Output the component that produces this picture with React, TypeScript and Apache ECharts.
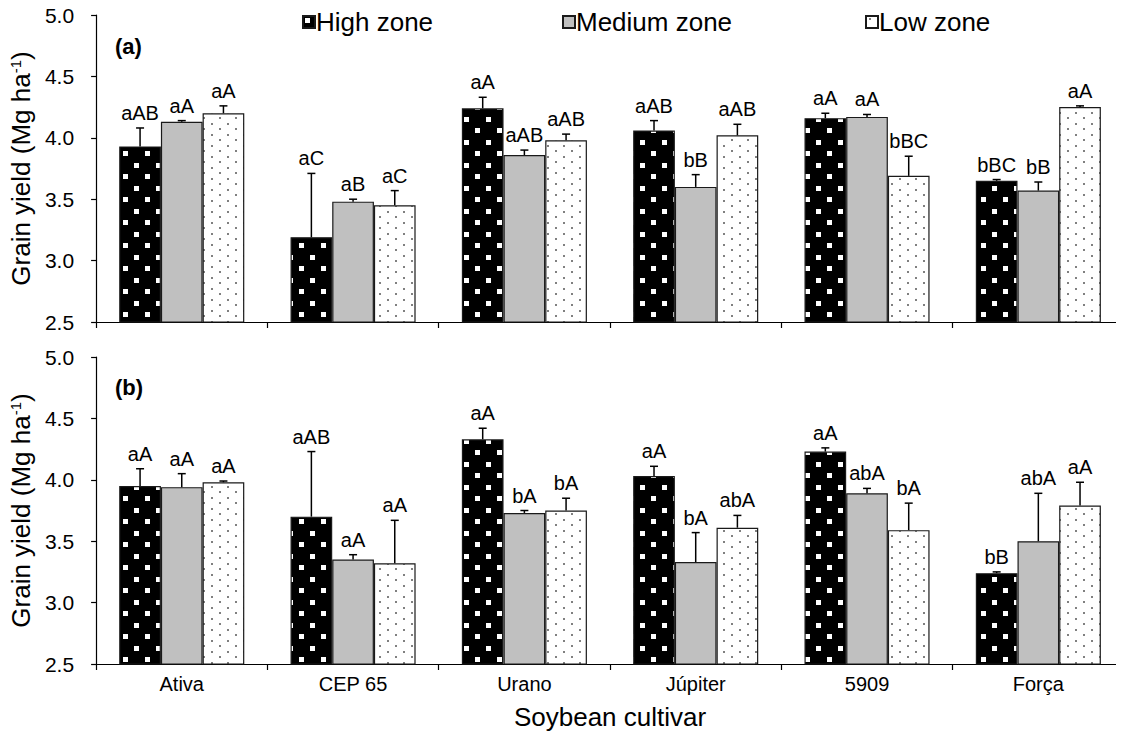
import React, { useEffect, useRef } from "react";
import * as echarts from "echarts";

const categories = ["Ativa", "CEP 65", "Urano", "Júpiter", "5909", "Força"];
const zoneNames = ["High zone", "Medium zone", "Low zone"];

// Panel (a)
const aHigh = [3.93, 3.19, 4.24, 4.06, 4.16, 3.65];
const aHighErr = [0.15, 0.52, 0.09, 0.08, 0.04, 0.01];
const aMed = [4.13, 3.48, 3.86, 3.6, 4.17, 3.57];
const aMedErr = [0.01, 0.02, 0.04, 0.1, 0.02, 0.07];
const aLow = [4.2, 3.45, 3.98, 4.02, 3.69, 4.25];
const aLowErr = [0.06, 0.12, 0.05, 0.09, 0.16, 0.01];
const aHighLbl = ["aAB", "aC", "aA", "aAB", "aA", "bBC"];
const aMedLbl = ["aA", "aB", "aAB", "bB", "aA", "bB"];
const aLowLbl = ["aA", "aC", "aAB", "aAB", "bBC", "aA"];

// Panel (b)
const bHigh = [3.95, 3.7, 4.33, 4.03, 4.23, 3.24];
const bHighErr = [0.14, 0.53, 0.09, 0.08, 0.03, 0.01];
const bMed = [3.94, 3.35, 3.73, 3.33, 3.89, 3.5];
const bMedErr = [0.11, 0.04, 0.02, 0.24, 0.04, 0.39];
const bLow = [3.98, 3.32, 3.75, 3.61, 3.59, 3.79];
const bLowErr = [0.01, 0.35, 0.1, 0.1, 0.22, 0.19];
const bHighLbl = ["aA", "aAB", "aA", "aA", "aA", "bB"];
const bMedLbl = ["aA", "aA", "bA", "bA", "abA", "abA"];
const bLowLbl = ["aA", "aA", "bA", "abA", "bA", "aA"];

const yTicks = { min: 2.5, max: 5.0, interval: 0.5 };

const FONT = '"Liberation Sans", Arial, Helvetica, sans-serif';
const CAT_GAP = 0.27;

function makeHighPattern() {
  const c = document.createElement("canvas");
  c.width = 22;
  c.height = 23;
  const g = c.getContext("2d")!;
  g.fillStyle = "#000";
  g.fillRect(0, 0, 22, 23);
  g.fillStyle = "#fff";
  g.fillRect(2, 2, 5, 5);
  g.fillRect(13, 13, 5, 5);
  return c;
}
function makeLowPattern() {
  const c = document.createElement("canvas");
  c.width = 16;
  c.height = 11;
  const g = c.getContext("2d")!;
  g.fillStyle = "#fff";
  g.fillRect(0, 0, 16, 11);
  g.fillStyle = "#808080";
  g.fillRect(3, 2, 2, 2);
  g.fillRect(11, 7, 2, 2);
  return c;
}

export default function App() {
  const ref = useRef<HTMLDivElement>(null);
  useEffect(() => {
    if (!ref.current) return;
    const chart = echarts.init(ref.current, null, { renderer: "svg" });
    const hp = makeHighPattern();
    const lp = makeLowPattern();
    const fills: any[] = [
      { image: hp, repeat: "repeat", imageWidth: 22, imageHeight: 23 },
      "#c0c0c0",
      { image: lp, repeat: "repeat", imageWidth: 16, imageHeight: 11 },
    ];

    const panels = [
      { vals: [aHigh, aMed, aLow], errs: [aHighErr, aMedErr, aLowErr], lbls: [aHighLbl, aMedLbl, aLowLbl] },
      { vals: [bHigh, bMed, bLow], errs: [bHighErr, bMedErr, bLowErr], lbls: [bHighLbl, bMedLbl, bLowLbl] },
    ];

    const series: any[] = [];
    panels.forEach((p, gi) => {
      for (let k = 0; k < 3; k++) {
        series.push({
          type: "bar",
          name: zoneNames[k],
          xAxisIndex: gi,
          yAxisIndex: gi,
          data: p.vals[k],
          barGap: "0%",
          barCategoryGap: CAT_GAP * 100 + "%",
          itemStyle: { color: fills[k], borderColor: "#1a1a1a", borderWidth: 1.2 },
          emphasis: { disabled: true },
        });
      }
    });
    panels.forEach((p, gi) => {
      for (let k = 0; k < 3; k++) {
        const vals = p.vals[k];
        const errs = p.errs[k];
        const lbls = p.lbls[k];
        series.push({
          type: "custom",
          xAxisIndex: gi,
          yAxisIndex: gi,
          silent: true,
          z: 5,
          data: vals.map((v, i) => [i, v, errs[i]]),
          renderItem: (params: any, api: any) => {
            const ci = api.value(0);
            const v = api.value(1);
            const e = api.value(2);
            const base = api.coord([ci, v]);
            const top = api.coord([ci, v + e]);
            const band = api.size([1, 0])[0];
            const bw = (band * (1 - CAT_GAP)) / 3;
            const x = base[0] + (k - 1) * bw;
            const capHalf = 4;
            return {
              type: "group",
              children: [
                { type: "line", shape: { x1: x, y1: base[1], x2: x, y2: top[1] }, style: { stroke: "#000", lineWidth: 1.5 } },
                { type: "line", shape: { x1: x - capHalf, y1: top[1], x2: x + capHalf, y2: top[1] }, style: { stroke: "#000", lineWidth: 1.5 } },
                {
                  type: "text",
                  x: x,
                  y: top[1] - 5,
                  style: {
                    text: lbls[params.dataIndex],
                    align: "center",
                    verticalAlign: "bottom",
                    fontSize: 20,
                    fontFamily: FONT,
                    fill: "#000",
                  },
                },
              ],
            };
          },
        });
      }
    });

    const yAxisCommon = (gi: number) => ({
      type: "value",
      gridIndex: gi,
      min: yTicks.min,
      max: yTicks.max,
      interval: yTicks.interval,
      name: "{a|Grain yield (Mg ha}{s|-1}{a|)}",
      nameLocation: "middle",
      nameGap: 58,
      nameTextStyle: {
        rich: {
          a: { fontSize: 26, fontFamily: FONT, color: "#000" },
          s: { fontSize: 15, fontFamily: FONT, color: "#000", verticalAlign: "top", padding: [0, 0, 10, 0] },
        },
      },
      axisLine: { show: true, lineStyle: { color: "#000", width: 1.2 } },
      axisTick: { show: true, inside: false, length: 5, lineStyle: { color: "#000", width: 1.2 } },
      axisLabel: {
        formatter: (v: number) => v.toFixed(1),
        fontSize: 21,
        fontFamily: FONT,
        color: "#000",
        margin: 22,
      },
      splitLine: { show: false },
    });

    const xAxisCommon = (gi: number) => ({
      type: "category",
      gridIndex: gi,
      data: categories,
      axisLine: { show: true, lineStyle: { color: "#000", width: 1.2 } },
      axisTick: { show: true, inside: false, length: 6, alignWithLabel: false, lineStyle: { color: "#000", width: 1.2 } },
      axisLabel: {
        show: gi === 1,
        fontSize: 20,
        fontFamily: FONT,
        color: "#000",
        margin: 10,
      },
      name: gi === 1 ? "Soybean cultivar" : "",
      nameLocation: "middle",
      nameGap: 40,
      nameTextStyle: { fontSize: 26, fontFamily: FONT, color: "#000" },
      splitLine: { show: false },
    });

    const legendPos = [297, 557, 860];
    const legends = zoneNames.map((n, i) => ({
      data: [n],
      left: legendPos[i],
      top: 4,
      itemWidth: 12,
      itemHeight: 12,
      icon: "rect",
      textStyle: { fontSize: 26, fontFamily: FONT, color: "#000", padding: [0, 0, 0, -4] },
      selectedMode: false,
    }));

    chart.setOption({
      animation: false,
      backgroundColor: "#fff",
      legend: legends,
      grid: [
        { left: 95, top: 15, right: -6, height: 307 },
        { left: 95, top: 357, right: -6, height: 307 },
      ],
      xAxis: [xAxisCommon(0), xAxisCommon(1)],
      yAxis: [yAxisCommon(0), yAxisCommon(1)],
      graphic: [
        { type: "text", left: 115, top: 35, style: { text: "(a)", fontSize: 22, fontWeight: "bold", fontFamily: FONT, fill: "#000" } },
        { type: "text", left: 115, top: 376, style: { text: "(b)", fontSize: 22, fontWeight: "bold", fontFamily: FONT, fill: "#000" } },
      ],
      series,
    });
    return () => chart.dispose();
  }, []);
  return <div ref={ref} style={{ width: 1124, height: 740, margin: -8 }} />;
}
